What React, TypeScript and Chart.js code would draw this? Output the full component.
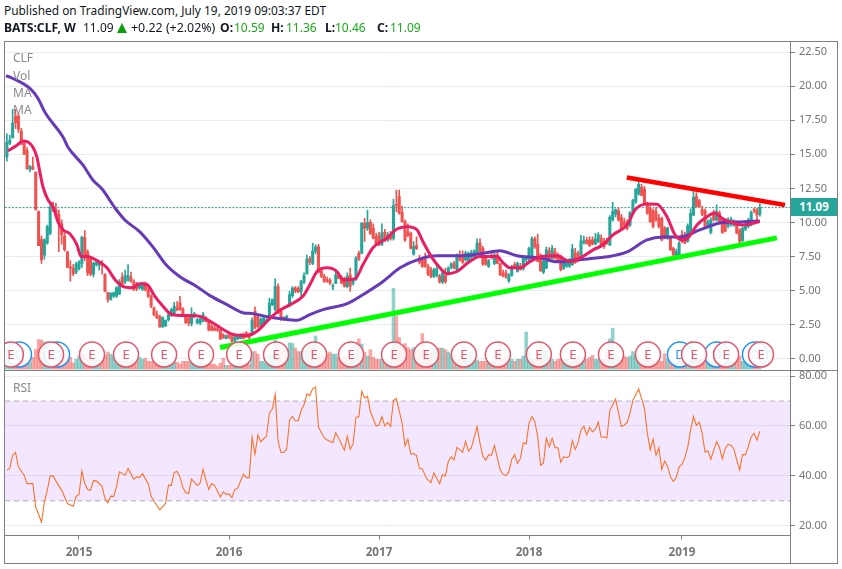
import React, { useEffect, useRef } from "react";
import Chart from "chart.js/auto";

// Weekly OHLC rows [open, high, low, close], week index runs from 1 upward.
const candles2014 = [
  [14.8,16.5,14.5,15.9],[15.8,16.4,15.7,16.05],[16.2,18.3,16.2,17.3],[17.8,18.3,16.9,17.3],[17.8,18.0,16.6,16.85],
  [16.7,16.9,15.7,15.75],[15.8,16.0,15.0,15.0],[15.3,15.5,13.9,13.95],[13.9,14.2,13.7,14.1],[14.1,14.8,13.9,13.9],
  [13.7,13.7,10.9,10.95],[10.8,10.85,8.3,8.3],[8.75,9.0,7.0,7.25],[7.6,8.8,7.3,8.75],[8.5,9.8,8.4,9.7],
  [9.2,11.4,9.1,11.1],[11.1,11.5,10.8,10.95],[10.95,11.4,10.5,10.55],[10.6,10.9,7.85,9.9],[9.9,10.2,8.4,9.1],
  [9.0,9.2,7.9,8.0],[7.85,7.9,6.7,6.7],[6.7,7.2,5.7,6.65],[6.65,6.9,6.1,6.25],[6.35,7.1,6.25,6.95],[6.6,7.2,6.5,7.1],
];
const candles2015 = [
  [7.0,9.0,6.7,8.9],[8.9,9.4,7.2,7.4],[7.85,8.0,6.1,6.3],[7.3,7.5,6.1,6.2],[6.2,7.1,6.0,7.0],[6.9,7.3,6.8,7.1],
  [6.85,7.1,6.5,7.0],[7.0,7.2,6.2,6.9],[6.2,6.25,4.9,4.95],[4.85,4.9,4.15,4.33],[4.35,4.85,4.3,4.8],[4.6,4.9,4.5,4.85],
  [4.6,5.3,4.5,5.2],[4.75,5.8,4.7,5.67],[6.0,6.3,5.4,5.45],[5.67,6.5,5.5,6.1],[5.75,6.9,5.7,6.1],[6.0,6.35,5.6,5.7],
  [5.67,5.8,5.0,5.1],[5.43,5.6,5.0,5.1],[5.2,5.55,5.1,5.45],[5.1,5.65,5.0,5.55],[5.5,5.65,4.95,5.05],[5.06,5.2,4.5,4.6],
  [4.58,4.7,3.75,3.85],[3.72,3.8,3.15,3.23],[3.23,3.5,2.95,3.0],[3.07,3.2,2.3,2.34],[2.34,3.1,2.3,3.0],[2.43,2.85,2.35,2.82],
  [2.87,3.3,2.75,3.24],[3.2,3.7,3.1,3.6],[3.24,4.14,3.2,3.85],[3.73,4.2,3.5,3.6],[4.1,4.58,3.55,3.6],[3.65,3.75,3.1,3.16],
  [3.1,3.2,2.6,2.63],[3.0,3.1,2.4,2.63],[2.58,3.73,2.4,3.16],[3.1,3.4,3.0,3.3],[2.63,2.95,2.55,2.87],[2.63,3.0,2.5,2.92],
  [2.75,3.4,2.7,3.24],[3.0,3.1,2.7,2.75],[2.75,2.85,2.05,2.1],[2.4,2.5,2.05,2.1],[2.25,2.4,2.05,2.1],[2.2,2.3,2.0,2.09],
  [2.09,2.15,1.4,1.46],[1.75,1.85,1.5,1.53],[1.5,1.75,1.45,1.7],[1.75,1.85,1.5,1.52],
];
const candles2016 = [
  [1.6,1.7,1.2,1.29],[1.29,1.7,1.2,1.6],[1.45,1.8,1.4,1.7],[1.5,1.85,1.45,1.75],[1.75,1.9,1.45,1.5],[1.9,2.0,1.55,1.6],
  [1.8,1.9,1.45,1.55],[1.78,3.0,1.75,2.82],[3.48,3.8,2.2,2.3],[3.1,3.3,2.3,2.35],[2.4,3.0,2.35,2.9],[2.5,3.1,2.4,3.0],
  [2.7,2.95,2.6,2.85],[3.1,4.45,3.0,4.09],[3.97,4.4,3.9,4.35],[3.6,5.87,3.5,5.3],[5.3,5.5,3.3,3.36],[3.48,3.6,2.8,2.87],
  [2.97,3.1,2.8,2.87],[2.87,3.2,2.8,3.11],[3.85,4.95,3.8,4.7],[4.63,5.3,4.5,5.18],[5.2,5.3,4.85,4.95],[5.15,5.3,4.85,4.9],
  [4.94,5.75,4.58,5.67],[5.62,6.3,5.5,6.1],[6.23,7.6,6.2,7.33],[7.33,7.5,6.9,7.09],[7.0,8.47,6.9,7.9],[7.9,8.35,7.7,8.2],
  [8.23,8.4,6.3,6.35],[6.45,6.6,5.95,6.04],[6.04,6.2,5.6,5.67],[5.8,6.0,5.6,5.67],[5.75,5.9,5.45,5.55],[5.3,5.5,5.05,5.35],
  [5.55,6.45,5.5,6.16],[6.16,6.3,5.85,5.9],[5.96,6.1,5.5,5.55],[5.9,6.0,5.25,5.3],[5.3,6.3,5.2,6.04],[6.16,6.65,4.94,5.3],
  [5.55,5.9,5.4,5.8],[5.8,7.5,5.75,7.38],[7.74,7.9,7.2,7.33],[7.74,9.99,7.7,9.95],[9.94,10.3,8.6,9.57],[9.57,10.9,9.4,10.0],
  [10.0,10.2,9.1,9.2],[9.57,9.9,8.8,8.84],[8.96,9.2,8.3,8.35],[9.08,9.3,8.3,8.35],
];
const candles2017 = [
  [8.4,9.9,8.3,9.25],[9.28,9.5,8.6,8.65],[8.72,9.3,8.6,9.08],[9.08,9.35,8.7,8.8],[8.84,11.7,8.7,11.23],[11.3,12.37,10.8,11.25],
  [11.89,12.37,10.6,10.67],[10.74,11.2,10.0,10.06],[10.06,10.2,8.6,8.72],[9.33,9.9,8.95,9.04],[9.2,9.3,8.05,8.1],[7.67,8.6,7.6,8.23],
  [8.3,8.95,8.0,8.1],[7.33,7.6,6.95,7.09],[7.3,7.4,6.7,6.77],[7.33,7.75,6.7,6.77],[6.77,6.95,6.1,6.2],[6.53,6.7,5.95,6.04],
  [6.04,6.65,5.95,6.53],[6.1,6.85,6.0,6.6],[6.04,6.2,5.55,5.63],[5.63,6.5,5.5,6.28],[6.1,6.65,5.55,5.63],[6.29,6.75,6.15,6.65],
  [6.7,7.05,6.6,6.94],[7.0,7.15,6.6,6.65],[6.53,7.7,6.45,7.58],[7.5,7.92,7.15,7.25],[7.63,7.92,7.0,7.06],[7.26,7.9,7.15,7.75],
  [7.2,7.85,7.1,7.75],[7.45,7.95,7.35,7.75],[7.5,8.0,7.4,7.92],[7.75,8.8,7.65,8.48],[8.48,8.8,7.8,7.87],[8.1,8.25,6.85,6.94],
  [7.38,7.5,6.85,6.94],[6.77,7.3,6.7,7.19],[7.6,7.75,7.3,7.4],[7.0,7.75,6.9,7.63],[7.63,7.8,6.95,7.0],[6.94,7.0,6.1,6.16],
  [6.3,6.5,6.0,6.05],[6.3,6.5,5.9,6.0],[5.72,6.25,5.6,6.16],[6.12,6.85,6.05,6.65],[6.9,7.1,6.6,6.7],[6.4,7.1,6.35,7.0],
  [6.8,7.0,6.5,6.55],[6.6,7.5,6.5,7.38],[7.26,7.5,7.1,7.4],[7.26,8.2,7.2,8.1],
];
const candles2018 = [
  [7.38,8.95,7.3,8.8],[8.8,8.95,8.1,8.2],[8.4,9.14,7.1,7.14],[7.63,7.7,6.4,6.46],[6.36,7.25,6.25,7.14],[6.65,8.2,6.6,8.0],
  [7.9,8.15,7.25,7.3],[7.38,8.3,7.3,8.1],[7.85,8.1,7.3,7.38],[7.63,7.75,7.1,7.14],[7.5,7.6,6.45,6.53],[6.65,7.2,6.55,7.14],
  [6.8,7.25,6.7,7.14],[6.8,7.35,6.7,7.27],[6.9,8.4,6.85,8.06],[7.75,8.1,7.0,7.05],[7.75,7.9,7.1,7.15],[7.63,9.05,7.55,8.65],
  [8.5,9.0,8.4,8.65],[8.7,8.9,8.4,8.45],[8.7,8.95,8.25,8.3],[8.72,8.95,8.35,8.43],[8.4,9.2,8.35,8.8],[8.6,9.25,8.5,9.09],
  [8.84,9.1,8.2,8.24],[8.65,8.85,8.1,8.25],[8.65,8.85,8.4,8.43],[8.36,10.5,8.3,10.38],[10.18,11.48,10.1,10.79],[10.6,11.0,10.4,10.95],
  [10.87,11.1,10.1,10.18],[10.38,10.6,9.5,9.57],[10.05,10.3,9.7,9.8],[10.0,10.2,9.45,9.57],[9.82,10.8,9.7,10.72],[10.79,11.7,10.7,11.6],
  [11.52,12.5,11.4,12.43],[12.09,13.1,12.0,12.8],[12.57,12.8,11.95,12.0],[12.43,12.65,11.3,11.4],[11.4,11.5,10.6,10.67],[11.04,11.2,10.0,10.06],
  [10.87,11.0,9.6,9.7],[10.79,11.1,10.1,10.18],[10.3,10.6,9.6,9.7],[10.3,10.4,8.65,8.72],[9.6,9.7,8.8,8.85],[8.85,9.65,8.75,9.6],
  [8.84,8.95,7.95,7.99],[8.11,8.2,7.55,7.63],[7.5,8.05,7.35,7.87],[7.63,8.6,7.5,8.48],[9.1,9.4,8.5,8.6],
];
const candles2019 = [
  [9.1,9.3,8.45,8.5],[8.6,9.9,8.55,9.75],[9.21,11.0,9.15,10.67],[10.55,12.33,10.5,11.84],[11.94,12.2,11.1,11.2],[11.6,11.7,11.1,11.16],
  [10.95,11.2,10.5,10.6],[10.87,11.0,9.6,9.7],[9.8,10.2,9.6,10.05],[9.26,10.35,9.15,10.18],[10.6,10.9,10.1,10.18],[10.18,11.3,10.1,10.79],
  [10.7,10.85,9.95,10.05],[10.18,10.3,9.2,9.26],[10.05,10.2,9.3,9.35],[9.75,10.35,9.6,10.18],[9.85,10.4,9.7,10.25],[9.8,10.2,9.7,10.05],
  [9.99,10.1,9.15,9.21],[9.45,9.55,8.45,8.6],[8.67,9.7,8.6,9.57],[9.5,10.0,9.4,9.75],[9.7,10.3,9.6,10.18],[9.82,10.85,9.75,10.72],
  [10.9,11.05,10.7,10.85],[10.92,11.05,9.95,10.55],[10.59,11.36,10.46,11.09],
];

const volumes = [
  12,14,18,21,23,15,12,14,11,18, 30,45,44,41,42,38,30,24,22,20, 20,20,18,10,15,20,27,23,16,15,
  15,14,14,14,21,26,23,20,14,12, 12,12,12,12,12,12,18,15,17,12, 12,12,11,11,12,12,11,11,11,11,
  8,12,12,12,11,11,11,9,6,8, 9,8,8,5,9,17,6,6,6,6, 8,8,9,10,8,27,27,23,12,12,
  9,22,22,44,38,33,30,30,40,39, 32,27,27,30,36,39,36,50,23,22, 20,24,26,23,23,18,18,18,18,18,
  22,39,46,38,26,20,30,18,15,15, 15,15,15,18,122,80,48,36,39,33, 30,33,30,30,54,30,28,27,32,32,
  32,32,30,26,23,22,15,15,18,22, 26,26,15,14,12,12,12,12,12,12, 12,39,15,22,12,15,12,15,15,20,
  56,25,15,15,15,38,30,30,18,15, 12,15,15,15,15,12,12,15,18,18, 18,15,18,21,15,15,15,15,30,46,
  62,23,18,15,20,18,20,27,22,18, 15,15,15,15,15,12,12,12,24,15, 12,12,12,12,15,18,15,42,30,15,
  15,15,12,12,12,12,12,12,12,12, 12,12,12,15,20,12,12,10,9,8,6,5,
];

// [week, value]
const fastMaPoints = [
  [1.4,15.25],[4.5,15.67],[6.6,15.98],[8.3,15.9],[10,15.54],[11.4,14.81],[12.5,13.62],[13.5,12.62],[15.3,11.64],[17,11.15],
  [18.7,10.06],[20.5,9.45],[22.9,9.16],[25.3,8.36],[26.7,7.5],[28.8,7.5],[33.3,7.06],[35.7,6.67],[38.5,5.8],[41.2,5.31],
  [44.4,5.21],[47.1,5.5],[49.6,5.43],[52.3,4.58],[55.1,3.85],[57.5,3.31],[60,3.19],[64.5,3.17],[67.9,3.11],[71.4,2.75],
  [74.9,2.29],[79.4,1.78],[84.2,1.7],[87.7,2.02],[91.2,2.75],[94.6,3.41],[99.1,3.97],[103.6,4.58],[106,5.43],[108.5,6.4],
  [112,6.67],[115.4,6.4],[117.5,5.8],[121.7,5.87],[124.4,6.89],[127.9,8.14],[132.8,8.87],[136.2,9.52],[140,9.69],[143.2,9.45],
  [145.2,8.6],[148.4,7.4],[151.1,6.67],[153.6,6.24],[157,6.4],[160.8,7.04],[165,7.5],[170.9,7.5],[173,7.04],[175.4,6.67],
  [178.9,6.67],[182.3,7.13],[186.8,7.5],[191.7,7.55],[196.2,7.13],[199.7,7.4],[204.2,7.99],[207.6,8.36],[211.1,9.09],[216,9.82],
  [218.7,10.91],[222.9,11.35],[226.3,11.33],[229.8,10.42],[232.6,9.09],[235,8.72],[237.1,8.87],[240.2,9.82],[243.7,10.42],[246.4,10.69],
  [249.2,10.26],[252.7,9.96],[256.2,9.82],[262,10.06],
];
const slowMaPoints = [
  [0.7,20.78],[3.1,20.56],[9,19.83],[11.8,19.1],[14.2,18.08],[20.5,16.25],[22.2,15.52],[27.4,14.2],[30.8,13.11],[34,12.45],
  [38.5,11.06],[41.9,10.18],[47.1,9.31],[51.6,8.21],[56.5,6.82],[61,6.02],[66.9,5.29],[71.4,4.63],[77.3,3.97],[82.8,3.38],
  [86.3,3.31],[92.2,3.04],[95.7,2.95],[101.6,2.82],[106,3.24],[110.6,3.6],[118.9,4.04],[124.4,4.7],[131.4,5.67],[137.3,6.67],
  [144.2,7.33],[150.1,7.55],[158.1,7.55],[165,7.7],[171.9,7.92],[177.8,7.55],[185.8,7.4],[192,7.11],[198.6,7.26],[209,7.48],
  [216,7.84],[222.9,8.72],[228.4,8.94],[234.3,8.94],[241.2,9.45],[248.2,9.96],[255.1,10.04],[262,10.11],
];
const supportLine = [[74.9,0.83],[267.9,8.87]];
const resistanceLine = [[215.9,13.3],[270.7,11.28]];
const lastPrice = 11.09;

const earningsWeeks = [2.4,16.3,30.5,42.3,55.5,68.3,81.5,94.3,107.5,120.3,135.2,146.3,159.4,171.2,185.4,197.2,210.4,223.2,239.2,250.3,262.4];
const dividendWeeks = [5.2,18.4,234.3,247.1,260.3];
const eventLevel = 0.31;

const rsiPoints = [
  [1,42.3],[2,43],[3,48.3],[4,49.4],[5,43.6],[7,40.3],[8,36.9],[10,36.9],[11,27.5],[13,21.5],[14,29.5],[15,34.2],[16,40],[17,40],[18,38],
  [20,34.2],[22,28.9],[24,27.8],[25,31.8],[26,32.6],[27,42],[28,36.9],[29,34.5],[30,34.2],[31,38.1],[32,38],[34,35.8],[35,30.9],[36,29.2],
  [37,31.9],[38,31.8],[39,35.6],[40,41.6],[42,40.3],[43,43],[45,38.7],[46,39.6],[47,39.3],[48,40.9],[50,36.9],[51,31.8],[52,29.9],[54,26.4],
  [56,28.9],[57,36.2],[58,36.2],[59,41.4],[60,41.8],[61,39.6],[62,35.3],[63,33.2],[64,32.9],[65,38.8],[67,36.2],[68,37.2],[69,42.6],[70,38.3],
  [71,34.5],[72,36.9],[73,36.2],[75,31.5],[76,33.6],[77,32.6],[78,32.8],[79,31.3],[80,34.5],[81,35.2],[83,40.7],[84,39.3],[85,39.3],[86,55.5],
  [87,48.7],[88,56.4],[89,53.7],[91,56],[92,65.2],[93,66.8],[94,72.7],[95,54],[96,49.4],[97,49.4],[98,50.8],[99,62.5],[100,63.8],[101,62],
  [102,62.2],[103,66.2],[104,68.5],[105,72.9],[106,72.1],[107,75],[108,75.6],[109,59.5],[111,55.3],[112,54.4],[114,53.3],[115,57.3],[116,55.1],
  [118,50.3],[119,55.9],[120,50.6],[121,52.8],[122,63.5],[123,63.7],[124,73.9],[125,71.2],[126,71.9],[127,65.8],[129,60],[130,60.4],[131,63.8],
  [132,60],[133,61.4],[134,59.8],[135,70.3],[136,71.1],[138,61.1],[139,52],[140,54.7],[141,48.7],[142,49],[143,48.1],[144,43],[145,42.8],
  [146.5,38.9],[148,37.3],[149,41.2],[151,36.9],[152,40.5],[153,39.9],[154,45.7],[155,47.7],[156,46.3],[157,51.4],[159,49.5],[160,53.9],[161,49.9],
  [162,51.3],[164,59.8],[165,53],[166,47.9],[167,46.3],[168,48.5],[169,48.2],[170,52.2],[172,42.3],[173,40.7],[174,40.1],[175,41.6],[176,46.6],
  [177,48.5],[178,45],[179,47],[180,53.3],[181,52.8],[182,61.1],[183,63.8],[184,61.8],[185,55.7],[186,44.2],[187,45.2],[188,55.1],[189,51.7],
  [190,55.1],[191,51.3],[192,51.3],[193,45.4],[194,47.7],[195,47.3],[196,47.9],[197,54.1],[198,50.6],[199,53.3],[200,58.4],[201,59.8],[202,56.4],
  [203,59.5],[204,57.6],[205,58.7],[206,61.5],[207,55.5],[208,55.7],[209,55.2],[210,66.2],[212,70.8],[214,59.8],[215,60.3],[216,61.4],[217,65.2],
  [218,70.3],[220,74.8],[222,67.2],[223,57.1],[224,50.4],[225,54.7],[226,48.3],[227,51.4],[228,42.6],[229,45.9],[230,43.9],[231,39.6],[232,37.7],
  [233,39.3],[234,43.6],[235,44.6],[236,47.4],[237,51.4],[238,58.4],[239,63.8],[240,60.2],[241,61.5],[242,57.1],[243,49.5],[244,50.1],[245,46.7],
  [247,53.7],[248,51.4],[249,46.7],[250,51],[251,52.7],[252,52.2],[253,50.8],[254,46.3],[255,42.3],[256,48.5],[257,48.5],[258,51.7],[259,55.7],
  [260,57.1],[261,54.3],[262,57.9],
];
const rsiUpper = 70;
const rsiLower = 30;

const priceTicks = [0,2.5,5,7.5,10,12.5,15,17.5,20,22.5];
const rsiTicks = [20,40,60,80];
const yearWeeks = [26,78,130,182,235];
const yearLabels = ["2015","2016","2017","2018","2019"];

const UP = "#26a69a";
const DOWN = "#ef5350";
const FONT = '"Noto Sans", sans-serif';
const GRID = "#e6eef5";
const AXIS = "#808080";
const LABEL = "#757575";
const X_MIN = 0.35;
const X_MAX = 272.45;

const candles = [...candles2014,...candles2015,...candles2016,...candles2017,...candles2018,...candles2019];
const toXY = (rows: number[][]) => rows.map(([x,y]) => ({ x, y }));

const eventTextPlugin = {
  id: "eventText",
  afterDatasetDraw(chart: any, args: any) {
    const ds = chart.data.datasets[args.index];
    if (!ds.eventText) return;
    const { ctx, chartArea } = chart;
    ctx.save();
    ctx.beginPath();
    ctx.rect(chartArea.left, chartArea.top, chartArea.right - chartArea.left, chartArea.bottom - chartArea.top);
    ctx.clip();
    ctx.font = `13px ${FONT}`;
    ctx.fillStyle = ds.pointBorderColor;
    ctx.textAlign = "center";
    ctx.textBaseline = "middle";
    args.meta.data.forEach((pt: any) => ctx.fillText(ds.eventText, pt.x, pt.y + 0.5));
    ctx.restore();
  },
};

function drawMain(canvas: HTMLCanvasElement) {
  const colours = candles.map(([o,,,c]) => (c >= o ? UP : DOWN));
  const soft = candles.map(([o,,,c]) => (c >= o ? "rgba(38,166,154,0.5)" : "rgba(239,83,80,0.5)"));
  const barBase = { type: "bar", yAxisID: "y", grouped: false, borderSkipped: false, borderWidth: 0 };
  const lineBase = { type: "line", yAxisID: "y", pointRadius: 0, fill: false };
  const eventBase = {
    type: "line", yAxisID: "y", showLine: false, pointRadius: 12.5, pointHoverRadius: 12.5,
    pointBackgroundColor: "rgba(255,255,255,0.88)", pointBorderWidth: 1.5,
  };
  return new Chart(canvas, {
    type: "bar",
    data: {
      datasets: [
        { ...eventBase, order: 1, eventText: "E", pointBorderColor: "#e4566a", data: earningsWeeks.map((x) => ({ x, y: eventLevel })) },
        { ...eventBase, order: 2, eventText: "D", pointBorderColor: "#2196f3", data: dividendWeeks.map((x) => ({ x, y: eventLevel })) },
        { ...lineBase, order: 3, borderColor: "#00ff00", borderWidth: 5, data: toXY(supportLine) },
        { ...lineBase, order: 3, borderColor: "#ff0000", borderWidth: 4.5, data: toXY(resistanceLine) },
        { ...lineBase, order: 4, borderColor: "#e91e63", borderWidth: 3, cubicInterpolationMode: "monotone", data: toXY(fastMaPoints) },
        { ...lineBase, order: 5, borderColor: "#673ab7", borderWidth: 3, cubicInterpolationMode: "monotone", data: toXY(slowMaPoints) },
        { ...barBase, order: 6, barThickness: 2.4, minBarLength: 1, backgroundColor: colours, data: candles.map(([o,,,c], i) => ({ x: i + 1, y: [o, c] })) },
        { ...barBase, order: 7, barThickness: 1, backgroundColor: colours, data: candles.map(([,h,l], i) => ({ x: i + 1, y: [l, h] })) },
        { ...lineBase, order: 8, borderColor: UP, borderWidth: 1, borderDash: [2, 1.5], data: [{ x: X_MIN, y: lastPrice }, { x: X_MAX, y: lastPrice }] },
        { ...barBase, order: 9, yAxisID: "yVol", barThickness: 2.9, backgroundColor: soft, data: volumes.map((v, i) => ({ x: i + 1, y: v })) },
      ] as any,
    },
    options: {
      animation: false, responsive: false, devicePixelRatio: 1,
      layout: { autoPadding: false, padding: { left: 5, top: 10, bottom: 10, right: 0 } },
      plugins: { legend: { display: false }, tooltip: { enabled: false } },
      events: [],
      scales: {
        x: { type: "linear", display: false, min: X_MIN, max: X_MAX, offset: false },
        yVol: { type: "linear", display: false, min: 0, max: 492 },
        y: {
          type: "linear", position: "right", min: -0.782, max: 23.196,
          afterBuildTicks: (s: any) => { s.ticks = priceTicks.map((value) => ({ value })); },
          afterFit: (s: any) => { s.width = 48; },
          grid: { color: GRID, tickColor: AXIS, tickLength: 5, lineWidth: 1 },
          border: { color: AXIS },
          ticks: { color: LABEL, font: { family: FONT, size: 11 }, padding: 4, autoSkip: false, callback: (v: any) => Number(v).toFixed(2) },
        },
      },
    } as any,
    plugins: [eventTextPlugin],
  } as any);
}

function drawRsi(canvas: HTMLCanvasElement) {
  const guide = { type: "line", pointRadius: 0, borderColor: "#b5adc0", borderWidth: 1, borderDash: [5, 4] };
  return new Chart(canvas, {
    type: "line",
    data: {
      datasets: [
        { type: "line", order: 1, borderColor: "#f9742a", borderWidth: 1.1, pointRadius: 0, fill: false, data: toXY(rsiPoints) },
        { ...guide, order: 2, fill: "+1", backgroundColor: "rgba(149,39,255,0.11)", data: [{ x: X_MIN, y: rsiUpper }, { x: X_MAX, y: rsiUpper }] },
        { ...guide, order: 3, fill: false, data: [{ x: X_MIN, y: rsiLower }, { x: X_MAX, y: rsiLower }] },
      ] as any,
    },
    options: {
      animation: false, responsive: false, devicePixelRatio: 1,
      layout: { autoPadding: false, padding: { left: 5, top: 10, right: 0, bottom: 0 } },
      plugins: { legend: { display: false }, tooltip: { enabled: false } },
      events: [],
      scales: {
        x: {
          type: "linear", min: X_MIN, max: X_MAX, offset: false,
          afterBuildTicks: (s: any) => { s.ticks = yearWeeks.map((value) => ({ value })); },
          afterFit: (s: any) => { s.height = 28.5; },
          grid: { drawOnChartArea: false, tickColor: AXIS, tickLength: 4 },
          border: { color: AXIS },
          ticks: {
            color: LABEL, font: { family: FONT, size: 11.7, weight: "bold" }, padding: 6, maxRotation: 0, autoSkip: false,
            callback: (v: any) => yearLabels[yearWeeks.indexOf(Number(v))],
          },
        },
        y: {
          type: "linear", position: "right", min: 16.1, max: 82.2,
          afterBuildTicks: (s: any) => { s.ticks = rsiTicks.map((value) => ({ value })); },
          afterFit: (s: any) => { s.width = 48; },
          grid: { color: GRID, tickColor: AXIS, tickLength: 5 },
          border: { color: AXIS },
          ticks: { color: LABEL, font: { family: FONT, size: 11 }, padding: 4, autoSkip: false, callback: (v: any) => Number(v).toFixed(2) },
        },
      },
    } as any,
  } as any);
}

const abs = (left: number, top: number, extra: any = {}): any => ({ position: "absolute", left, top, whiteSpace: "nowrap", ...extra });
const legendText = (top: number): any => abs(13, top, { fontSize: 12, lineHeight: "16px", color: "#8a8a8a" });
const green = "#1aaa1a";

export default function App() {
  const mainRef = useRef<HTMLCanvasElement>(null);
  const rsiRef = useRef<HTMLCanvasElement>(null);
  useEffect(() => {
    document.body.style.margin = "0";
    const a = drawMain(mainRef.current!);
    const b = drawRsi(rsiRef.current!);
    return () => { a.destroy(); b.destroy(); };
  }, []);
  const head: any = { fontSize: 12.2, lineHeight: "16px", color: "#131722" };
  const bold: any = { ...head, fontWeight: 700 };
  const value: any = { ...head, fontSize: 12, color: green };
  return (
    <div style={{ position: "fixed", left: 0, top: 0, width: 842, height: 569, overflow: "hidden", background: "#fff", fontFamily: FONT }}>
      <canvas ref={mainRef} width={838} height={348} style={abs(0, 32, { display: "block" })} />
      <canvas ref={rsiRef} width={838} height={204} style={abs(0, 360, { display: "block" })} />
      <div style={abs(4, 2, { ...head, fontSize: 11.9 })}>Published on TradingView.com, July 19, 2019 09:03:37 EDT</div>
      <div style={abs(4, 20, bold)}>BATS:CLF, W</div>
      <div style={abs(83, 20, { ...head, fontSize: 12 })}>11.09</div>
      <div style={abs(117, 23, { width: 0, height: 0, borderLeft: "5.5px solid transparent", borderRight: "5.5px solid transparent", borderBottom: "10px solid #0a9e0a" })} />
      <div style={abs(131, 20, { ...head, fontSize: 12.4 })}>+0.22 (+2.02%)</div>
      <div style={abs(220, 20, bold)}>O:</div>
      <div style={abs(234, 20, value)}>10.59</div>
      <div style={abs(271, 20, bold)}>H:</div>
      <div style={abs(286, 20, value)}>11.36</div>
      <div style={abs(325, 20, bold)}>L:</div>
      <div style={abs(335, 20, value)}>10.46</div>
      <div style={abs(377, 20, bold)}>C:</div>
      <div style={abs(390, 20, value)}>11.09</div>

      <div style={legendText(50)}>CLF</div>
      <div style={legendText(68)}>Vol</div>
      <div style={legendText(85)}>MA</div>
      <div style={legendText(102)}>MA</div>
      <div style={legendText(380)}>RSI</div>

      <div style={abs(791, 198, { width: 46, height: 18, background: UP, color: "#fff", fontWeight: 700, fontSize: 11.5, lineHeight: "18px", textAlign: "center" })}>11.09</div>

      <div style={abs(4, 41, { width: 832, height: 521, border: `1px solid ${AXIS}`, pointerEvents: "none" })} />
      <div style={abs(5, 370, { width: 832, height: 1, background: AXIS })} />
      <div style={abs(790, 535, { width: 1, height: 28, background: AXIS })} />
    </div>
  );
}
